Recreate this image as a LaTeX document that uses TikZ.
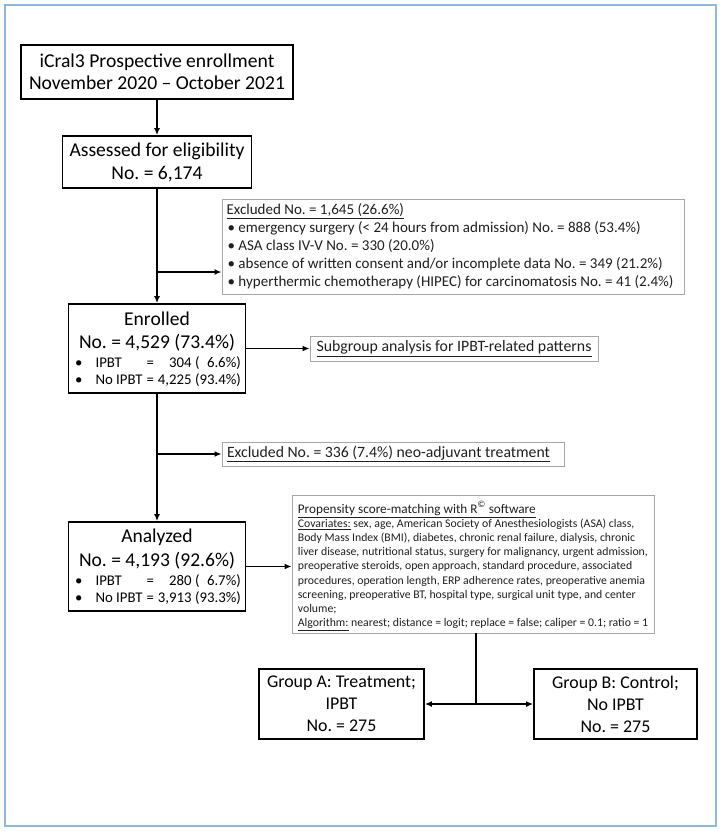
\documentclass[tikz,border=0pt]{standalone}
\usepackage{fontspec}
\setmainfont{Carlito}
\usetikzlibrary{arrows.meta}
\definecolor{framec}{HTML}{8FB8E0}
\definecolor{grayb}{HTML}{A6A6A6}
\definecolor{txt}{HTML}{1F1F1F}
\newcommand{\fs}[2]{\fontsize{#1}{#2}\selectfont}
\newcommand{\bul}{\hspace*{1pt}\makebox[11pt][l]{\textbullet}}
\newlength\natw
\newcommand\fitsize[3]{\settowidth\natw{\fontsize{10}{12}\selectfont #3}\pgfmathsetmacro#1{10*#2/\natw}\global\let#1#1}
\begin{document}
\frenchspacing
\fitsize\sza{256}{November 2020 – October 2021}
\fitsize\szb{175}{Assessed for eligibility}
\fitsize\szc{156}{No. = 4,529 (73.4\%)}
\fitsize\szd{144}{No IPBT = 4,225 (93.4\%)}
\fitsize\sze{435}{hyperthermic chemotherapy (HIPEC) for carcinomatosis No. = 41 (2.4\%)}
\fitsize\szf{275}{Subgroup analysis for IPBT-related patterns}
\fitsize\szg{323}{Excluded No. = 336 (7.4\%) neo-adjuvant treatment}
\fitsize\szh{350}{liver disease, nutritional status, surgery for malignancy, urgent admission,}
\fitsize\szi{238}{Propensity score-matching with R\textsuperscript{©} software}
\fitsize\szj{149}{Group A: Treatment;}
\begin{tikzpicture}[x=1pt,y=-1pt,
  mainbox/.style={draw=black,line width=1.8pt,inner sep=0pt,align=center,text=black},
  graybox/.style={draw=grayb,line width=0.9pt,inner sep=0pt,text=txt},
  conn/.style={line width=1.5pt,draw=black},
  arr/.style={conn,-{Latex[length=7pt,width=6pt]}},
  bigtxt/.style={inner sep=0pt,font=\fs{\szc}{22}},
  bultxt/.style={inner sep=0pt,font=\fs{\szd}{17}}
]
\useasboundingbox (0,0) rectangle (723,831);
\draw[framec,line width=1.3pt] (5,5) rectangle (716,826);

\node[mainbox,minimum width=272pt,minimum height=54pt,font=\fs{\sza}{22}] (b1) at (157,72)
  {iCral3 Prospective enrollment\\November 2020 – October 2021};
\node[mainbox,minimum width=189pt,minimum height=52pt,font=\fs{\szb}{23}] (b2) at (157,162)
  {Assessed for eligibility\\No. = 6,174};

\node[graybox,minimum width=462pt,minimum height=95pt,align=left,font=\fs{\sze}{18}] (ex1) at (453,246.5)
  {\underline{Excluded No. = 1,645 (26.6\%)}\\
   \bul emergency surgery (< 24 hours from admission) No. = 888 (53.4\%)\\
   \bul ASA class IV-V No. = 330 (20.0\%)\\
   \bul absence of written consent and/or incomplete data No. = 349 (21.2\%)\\
   \bul hyperthermic chemotherapy (HIPEC) for carcinomatosis No. = 41 (2.4\%)\hspace*{6pt}};

\node[mainbox,minimum width=177pt,minimum height=89pt] (b3) at (157,348.5) {};
\node[bigtxt] (b3a) at (157,319) {Enrolled};
\node[bigtxt] (b3b) at (157,343) {No. = 4,529 (73.4\%)};
\node[bultxt] (b3c) at (158,372.5)
  {\begin{tabular}{@{}l@{\hspace{13pt}}l@{\hspace{4pt}}c@{\hspace{4pt}}r@{}}
   \textbullet & IPBT & = & 304 (\phantom{0}6.6\%)\\
   \textbullet & No IPBT & = & 4,225 (93.4\%)
   \end{tabular}};

\node[graybox,minimum width=288pt,minimum height=25pt,font=\fs{\szf}{17}] (sub) at (454,348.5)
  {\underline{Subgroup analysis for IPBT-related patterns}};

\node[graybox,minimum width=342pt,minimum height=24pt,font=\fs{\szg}{17}] (ex2) at (393,454)
  {\underline{Excluded No. = 336 (7.4\%) neo-adjuvant treatment}\hspace*{9pt}};

\node[mainbox,minimum width=177pt,minimum height=89pt] (b4) at (157,566.5) {};
\node[bigtxt] (b4a) at (157,537) {Analyzed};
\node[bigtxt] (b4b) at (157,561) {No. = 4,193 (92.6\%)};
\node[bultxt] (b4c) at (158,590.5)
  {\begin{tabular}{@{}l@{\hspace{13pt}}l@{\hspace{4pt}}c@{\hspace{4pt}}r@{}}
   \textbullet & IPBT & = & 280 (\phantom{0}6.7\%)\\
   \textbullet & No IPBT & = & 3,913 (93.3\%)
   \end{tabular}};

\node[graybox,minimum width=362pt,minimum height=138pt,align=left,font=\fs{\szh}{14.2}] (prop) at (473,564)
  {\rule{0pt}{16pt}{\fs{\szi}{14.2}\underline{Propensity score-matching with R\textsuperscript{©} software}}\\
   \underline{Covariates:} sex, age, American Society of Anesthesiologists (ASA) class,\\
   Body Mass Index (BMI), diabetes, chronic renal failure, dialysis, chronic\\
   liver disease, nutritional status, surgery for malignancy, urgent admission,\\
   preoperative steroids, open approach, standard procedure, associated\\
   procedures, operation length, ERP adherence rates, preoperative anemia\\
   screening, preoperative BT, hospital type, surgical unit type, and center\\
   volume;\\
   \underline{Algorithm:} nearest; distance = logit; replace = false; caliper = 0.1; ratio = 1};

\node[mainbox,minimum width=165pt,minimum height=70pt,font=\fs{\szj}{22}] (gA) at (341.5,704)
  {Group A: Treatment;\\IPBT\\No. = 275};
\node[mainbox,minimum width=163pt,minimum height=70pt,font=\fs{\szj}{22}] (gB) at (615.5,704)
  {Group B: Control;\\No IPBT\\No. = 275};

% connectors
\coordinate (j1) at (157,272);
\coordinate (j2) at (157,454);
\coordinate (j3) at (476,704);
\draw[arr] (b1.south) -- (b2.north);
\draw[arr] (b2.south) -- (b3.north);
\draw[arr] (j1) -- (j1 -| ex1.west);
\draw[arr] (b3.east) -- (b3.east -| sub.west);
\draw[arr] (b3.south) -- (b4.north);
\draw[arr] (j2) -- (ex2.west);
\draw[arr] (b4.east) -- (b4.east -| prop.west);
\draw[conn] (j3 |- prop.south) -- (j3);
\draw[arr] (j3) -- (j3 -| gA.east);
\draw[arr] (j3) -- (j3 -| gB.west);
\end{tikzpicture}
\end{document}
